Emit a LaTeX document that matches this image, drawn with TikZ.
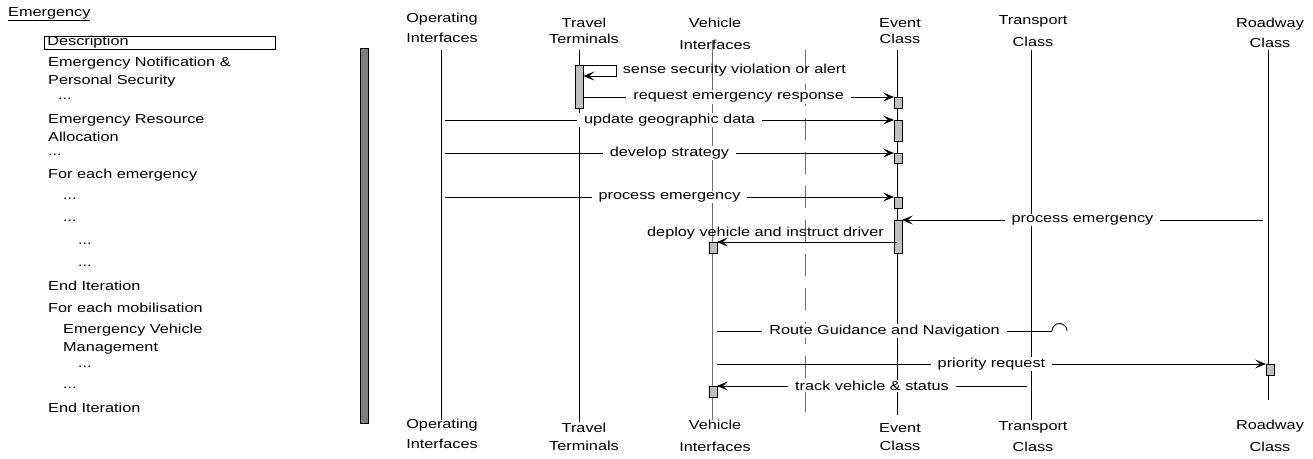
\documentclass[tikz,border=0pt]{standalone}
\usepackage{fontspec}
\setmainfont{Liberation Sans}[FakeStretch=1.25]
\usetikzlibrary{arrows.meta,positioning}
\definecolor{actfill}{HTML}{C0C0C0}
\definecolor{barfill}{HTML}{808080}
\definecolor{lifegray}{HTML}{707070}

\begin{document}
\begin{tikzpicture}[x=1pt,y=-1pt,
  font=\fontsize{13}{18}\selectfont,
  item/.style={anchor=west,inner sep=0pt,align=left},
  head/.style={align=center,inner sep=0pt,font=\fontsize{13}{20}\selectfont},
  life/.style={line width=0.9pt},
  act/.style={draw,fill=actfill,anchor=north west,inner sep=0pt,minimum width=7.5pt},
  msg/.style={-{Stealth[length=11pt,width=9pt,inset=5pt]},line width=0.9pt},
  lbl/.style={fill=white,inner sep=1pt,inner xsep=7pt},
]
  \useasboundingbox (0,0) rectangle (1313,458);

  % left panel
  \node[item] (cat) at (8,14) {\underline{Emergency}};
  \node[draw,anchor=west,line width=0.8pt,minimum height=13pt,inner sep=0pt,
    inner xsep=3pt,text width=225pt,align=left] (desc) at (44,42.5) {Description};
  \node[item] (n1) at (48,72) {Emergency Notification \&\\Personal Security};
  \node[item] (d1) at (58,99) {...};
  \node[item] (n2) at (48,128) {Emergency Resource\\Allocation};
  \node[item] (d2) at (48,155) {...};
  \node[item] (n3) at (48,175) {For each emergency};
  \node[item] (d3) at (63,199) {...};
  \node[item] (d4) at (63,221) {...};
  \node[item] (d5) at (78,244) {...};
  \node[item] (d6) at (78,266) {...};
  \node[item] (n4) at (48,286) {End Iteration};
  \node[item] (n5) at (48,308) {For each mobilisation};
  \node[item] (n6) at (63,339) {Emergency Vehicle\\Management};
  \node[item] (d7) at (78,367) {...};
  \node[item] (d8) at (63,388) {...};
  \node[item] (n7) at (48,408) {End Iteration};
  \node[draw,fill=barfill,anchor=north west,minimum width=8pt,minimum height=375pt,
    inner sep=0pt] (bar) at (360,48) {};

  % lifeline heads and feet
  \node[head] (opH) at (442,28) {Operating\\Interfaces};
  \node[head] (ttH) at (584,31) {Travel\\[-4pt]Terminals};
  \node[head] (viH) at (715,34) {Vehicle\\[2pt]Interfaces};
  \node[head] (ecH) at (900,31) {Event\\[-4pt]Class};
  \node[head] (tcH) at (1033,31) {Transport\\[2pt]Class};
  \node[head] (rcH) at (1270,33) {Roadway\\Class};
  \node[head] (opF) at (442,434) {Operating\\Interfaces};
  \node[head] (ttF) at (584,437) {Travel\\[-2pt]Terminals};
  \node[head] (viF) at (715,436) {Vehicle\\[2pt]Interfaces};
  \node[head] (ecF) at (900,437) {Event\\[-2pt]Class};
  \node[head] (tcF) at (1033,436.5) {Transport\\[1pt]Class};
  \node[head] (rcF) at (1270,436) {Roadway\\[2pt]Class};

  \coordinate (op) at (441,50);
  \coordinate (opR) at (445,50);
  \coordinate (tt) at (579,50);
  \coordinate (vi) at (712,40);
  \coordinate (sep) at (805,50);
  \coordinate (ec) at (897,50);
  \coordinate (tc) at (1031,50);
  \coordinate (tcL) at (1027,50);
  \coordinate (rc) at (1268,50);
  \coordinate (rcL) at (1263,50);
  \draw[life] (op) -- ++(0,370);
  \draw[life] (tt) -- ++(0,372);
  \draw[life,lifegray] (vi) -- ++(0,380);
  \draw[life,lifegray,dash pattern=on 22pt off 12pt] (sep) -- ++(0,370);
  \draw[life] (ec) -- ++(0,365);
  \draw[life] (tc) -- ++(0,370);
  \draw[life] (rc) -- ++(0,350);

  % activations
  \node[act,minimum width=8pt,minimum height=43pt] (tt1) at (575,65) {};
  \node[act,minimum height=11pt] (ec1) at (894,97) {};
  \node[act,minimum height=21pt] (ec2) at (894,120) {};
  \node[act,minimum height=10pt] (ec3) at (894,153) {};
  \node[act,minimum height=11pt] (ec4) at (894,197) {};
  \node[act,minimum height=33pt] (ec5) at (894,220) {};
  \node[act,minimum height=11pt] (vi1) at (709,242) {};
  \node[act,minimum height=11pt] (vi2) at (709,386) {};
  \node[act,minimum height=11pt] (rc1) at (1266,364) {};
  \coordinate (rg) at (1052,331);

  % messages
  \draw[msg] (tt1.north east) -- ++(33,0) -- ++(0,11)
    node[midway,right=6pt,inner sep=0pt] (m1) {sense security violation or alert} -- ++(-33,0);
  \draw[msg] (tt1.east |- ec1.north west) -- (ec1.north west)
    node[lbl,midway] (m2) {request emergency response};
  \draw[msg] (opR |- ec2.north west) -- (ec2.north west)
    node[lbl,midway] (m3) {update geographic data};
  \draw[msg] (opR |- ec3.north west) -- (ec3.north west)
    node[lbl,midway] (m4) {develop strategy};
  \draw[msg] (opR |- ec4.north west) -- (ec4.north west)
    node[lbl,midway] (m5) {process emergency};
  \draw[msg] (rcL |- ec5.north east) -- (ec5.north east)
    node[lbl,midway] (m6) {process emergency};
  \draw[msg] (ec |- vi1.north east) -- (vi1.north east)
    node[pos=0.73,above=2pt,inner sep=0pt] (m7) {deploy vehicle and instruct driver};
  \draw[life] (vi1.east |- rg) -- (rg)
    node[lbl,midway] (m8) {Route Guidance and Navigation};
  \draw[life] (rg) arc[start angle=180,end angle=360,radius=7.5];
  \draw[msg] (vi1.east |- rc1.north west) -- (rc1.north west)
    node[lbl,midway] (m9) {priority request};
  \draw[msg] (tcL |- vi2.north east) -- (vi2.north east)
    node[lbl,midway] (m10) {track vehicle \& status};
\end{tikzpicture}
\end{document}
